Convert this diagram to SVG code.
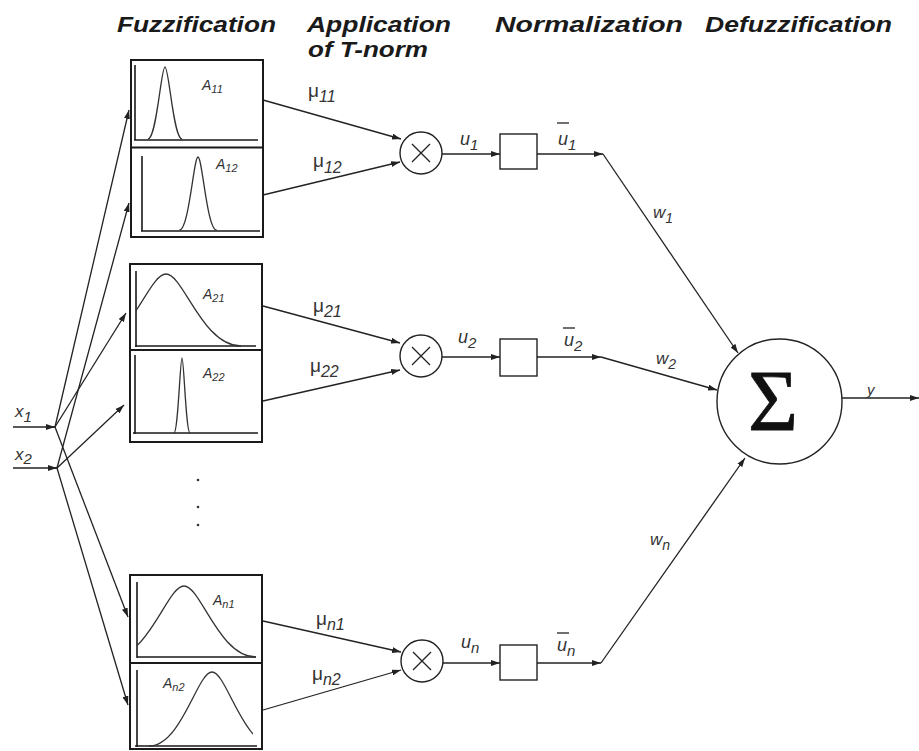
<svg xmlns="http://www.w3.org/2000/svg" width="919" height="751" viewBox="0 0 919 751">
<style>
.hdr{font-family:"Liberation Sans",Arial,sans-serif;font-weight:bold;font-style:italic;font-size:22px;fill:#1a1a1a}
.lbl{font-family:"Liberation Sans",Arial,sans-serif;font-style:italic;fill:#333}
.mu{font-family:"Liberation Sans",Arial,sans-serif;fill:#333}
.box{fill:#fff;stroke:#1a1a1a;stroke-width:2}
.ax{fill:none;stroke:#1a1a1a;stroke-width:1.6}
.crv{fill:none;stroke:#333;stroke-width:1.3}
.ln{fill:none;stroke:#222;stroke-width:1.3}
.arr{fill:none;stroke:#222;stroke-width:1.3;marker-end:url(#ah)}
.nd{fill:#fff;stroke:#222;stroke-width:1.4}
</style>
<defs>
<marker id="ah" markerWidth="9" markerHeight="6" refX="9" refY="3" orient="auto" markerUnits="userSpaceOnUse"><path d="M0,0 L9,3 L0,6 z" fill="#222"/></marker>
<clipPath id="c2t"><rect x="136" y="265" width="122" height="85"/></clipPath>
<clipPath id="c3t"><rect x="137" y="576" width="122" height="86"/></clipPath>
<clipPath id="c3b"><rect x="130" y="664" width="123" height="85"/></clipPath>
</defs>
<rect width="919" height="751" fill="#fff"/>

<g id="headers">
<text class="hdr" x="117" y="32" textLength="159" lengthAdjust="spacingAndGlyphs">Fuzzification</text>
<text class="hdr" x="307" y="32" textLength="144" lengthAdjust="spacingAndGlyphs">Application</text>
<text class="hdr" x="308" y="57" textLength="120" lengthAdjust="spacingAndGlyphs">of T-norm</text>
<text class="hdr" x="495" y="32" textLength="188" lengthAdjust="spacingAndGlyphs">Normalization</text>
<text class="hdr" x="705" y="32" textLength="187" lengthAdjust="spacingAndGlyphs">Defuzzification</text>
</g>

<g id="connectors">
<line class="ln" x1="13" y1="427" x2="55" y2="427"/>
<line class="ln" x1="13" y1="468" x2="57" y2="468"/>
<path d="M47,427 l8,0" class="arr"/>
<path d="M49,468 l8,0" class="arr"/>
<line class="arr" x1="55" y1="427" x2="129" y2="110"/>
<line class="arr" x1="55" y1="427" x2="126" y2="313"/>
<line class="arr" x1="55" y1="427" x2="128" y2="617"/>
<line class="arr" x1="57" y1="468" x2="129" y2="203"/>
<line class="arr" x1="57" y1="468" x2="124" y2="405"/>
<line class="arr" x1="57" y1="468" x2="128" y2="705"/>

<line class="arr" x1="263" y1="100" x2="401" y2="139"/>
<line class="arr" x1="263" y1="195" x2="400" y2="162"/>
<line class="arr" x1="263" y1="306" x2="400" y2="343"/>
<line class="arr" x1="263" y1="401" x2="400" y2="370"/>
<line class="arr" x1="263" y1="621" x2="401" y2="652"/>
<line class="arr" x1="263" y1="710" x2="401" y2="670"/>

<line class="arr" x1="442" y1="154" x2="500" y2="154"/>
<line class="arr" x1="442" y1="357" x2="500" y2="357"/>
<line class="arr" x1="443" y1="663" x2="500" y2="663"/>

<line class="arr" x1="537" y1="154" x2="603" y2="154"/>
<line class="arr" x1="537" y1="357" x2="601" y2="357"/>
<line class="arr" x1="537" y1="663" x2="601" y2="663"/>

<line class="arr" x1="603" y1="154" x2="738" y2="353"/>
<line class="arr" x1="601" y1="357" x2="717" y2="390"/>
<line class="arr" x1="601" y1="663" x2="745" y2="458"/>

<line class="arr" x1="842" y1="398" x2="919" y2="398"/>
</g>

<g id="fuzz1">
<rect class="box" x="131" y="60" width="132" height="177"/>
<line class="box" x1="131" y1="147.5" x2="263" y2="147.5"/>
<path class="ax" d="M135,65 V140 M134,140 H258"/>
<path class="crv" d="M147.9,139 C156.7,139 161,67 165,67 C169,67 173.3,139 182.1,139"/>
<text class="lbl" x="202" y="90" font-size="14">A<tspan font-size="11" dy="3">11</tspan></text>
<path class="ax" d="M142,156 V231 M141,231 H260"/>
<path class="crv" d="M179.4,230 C189,230 193.7,157 198,157 C202.3,157 207,230 216.6,230"/>
<text class="lbl" x="216" y="169" font-size="14">A<tspan font-size="11" dy="3">12</tspan></text>
</g>

<g id="fuzz2">
<rect class="box" x="130" y="264" width="132" height="178"/>
<line class="box" x1="130" y1="350" x2="262" y2="350"/>
<path class="ax" d="M136,271 V347 M135,346 H256"/>
<path class="crv" clip-path="url(#c2t)" d="M91,346 C129.75,346 148.5,274 166,274 C183.5,274 202.25,346 241,346"/>
<text class="lbl" x="203" y="299" font-size="14">A<tspan font-size="11" dy="3">21</tspan></text>
<path class="ax" d="M135,355 V434 M133,433 H258"/>
<path class="crv" d="M173.9,433 C178.1,433 180.1,358 182,358 C183.9,358 185.9,433 190.1,433"/>
<text class="lbl" x="203" y="378" font-size="14">A<tspan font-size="11" dy="3">22</tspan></text>
</g>

<g id="dots" fill="#333">
<circle cx="198" cy="480" r="1.3"/>
<circle cx="198" cy="507" r="1.3"/>
<circle cx="198" cy="525" r="1.3"/>
</g>

<g id="fuzzn">
<rect class="box" x="130" y="575" width="132" height="174"/>
<line class="box" x1="130" y1="663" x2="262" y2="663"/>
<path class="ax" d="M137,582 V658 M137,657 H256"/>
<path class="crv" clip-path="url(#c3t)" d="M112,657 C149.2,657 167.2,586 184,586 C200.8,586 218.8,657 256,657"/>
<text class="lbl" x="213" y="605" font-size="14">A<tspan font-size="11" dy="3">n1</tspan></text>
<path class="ax" d="M137,670 V747 M135,746 H257"/>
<path class="crv" clip-path="url(#c3b)" d="M149,746 C181.55,746 197.3,672 212,672 C226.7,672 242.45,746 275,746"/>
<text class="lbl" x="163" y="688" font-size="14">A<tspan font-size="11" dy="3">n2</tspan></text>
</g>

<g id="mu-labels">
<text class="mu" x="308" y="97" font-size="19">μ<tspan class="lbl" font-size="16" dy="5">11</tspan></text>
<text class="mu" x="313" y="167" font-size="19">μ<tspan class="lbl" font-size="16" dy="6">12</tspan></text>
<text class="mu" x="313" y="312" font-size="19">μ<tspan class="lbl" font-size="16" dy="5">21</tspan></text>
<text class="mu" x="310" y="372" font-size="19">μ<tspan class="lbl" font-size="16" dy="5">22</tspan></text>
<text class="mu" x="316" y="625" font-size="19">μ<tspan class="lbl" font-size="16" dy="5">n1</tspan></text>
<text class="mu" x="312" y="680" font-size="19">μ<tspan class="lbl" font-size="16" dy="5">n2</tspan></text>
</g>

<g id="tnorm1">
<circle class="nd" cx="421" cy="153" r="21"/>
<path class="ln" d="M412,144 L430,162 M430,144 L412,162"/>
</g>
<g id="tnorm2">
<circle class="nd" cx="421" cy="356" r="21"/>
<path class="ln" d="M412,347 L430,365 M430,347 L412,365"/>
</g>
<g id="tnormn">
<circle class="nd" cx="422" cy="661" r="21"/>
<path class="ln" d="M413,652 L431,670 M431,652 L413,670"/>
</g>

<g id="norm1">
<rect class="nd" x="500" y="134" width="37" height="35"/>
</g>
<g id="norm2">
<rect class="nd" x="500" y="339" width="37" height="37"/>
</g>
<g id="normn">
<rect class="nd" x="500" y="645" width="37" height="35"/>
</g>

<g id="signal-labels">
<text class="lbl" x="460" y="145" font-size="18">u<tspan font-size="15" dy="5">1</tspan></text>
<text class="lbl" x="458" y="343" font-size="18">u<tspan font-size="15" dy="5">2</tspan></text>
<text class="lbl" x="461" y="648" font-size="18">u<tspan font-size="15" dy="5">n</tspan></text>
<text class="lbl" x="558" y="145" font-size="18">u<tspan font-size="15" dy="5">1</tspan></text>
<line class="ln" x1="557" y1="123" x2="569" y2="123"/>
<text class="lbl" x="564" y="346" font-size="18">u<tspan font-size="15" dy="5">2</tspan></text>
<line class="ln" x1="563" y1="328" x2="575" y2="328"/>
<text class="lbl" x="557" y="651" font-size="18">u<tspan font-size="15" dy="5">n</tspan></text>
<line class="ln" x1="557" y1="633" x2="569" y2="633"/>
<text class="lbl" x="653" y="218" font-size="17">w<tspan font-size="14" dy="5">1</tspan></text>
<text class="lbl" x="656" y="364" font-size="17">w<tspan font-size="14" dy="5">2</tspan></text>
<text class="lbl" x="650" y="545" font-size="17">w<tspan font-size="14" dy="5">n</tspan></text>
</g>

<g id="inputs">
<text class="lbl" x="15" y="417" font-size="17">x<tspan font-size="15" dy="5">1</tspan></text>
<text class="lbl" x="15" y="460" font-size="17">x<tspan font-size="15" dy="4">2</tspan></text>
</g>

<g id="sum">
<circle class="nd" cx="779.5" cy="401.5" r="62.5"/>
<text x="773" y="430" font-family="'Liberation Serif','Times New Roman',serif" font-size="86" fill="#111" stroke="#111" stroke-width="0.8" text-anchor="middle">Σ</text>
</g>

<g id="output">
<text class="lbl" x="867" y="395" font-size="15">y</text>
</g>
</svg>
